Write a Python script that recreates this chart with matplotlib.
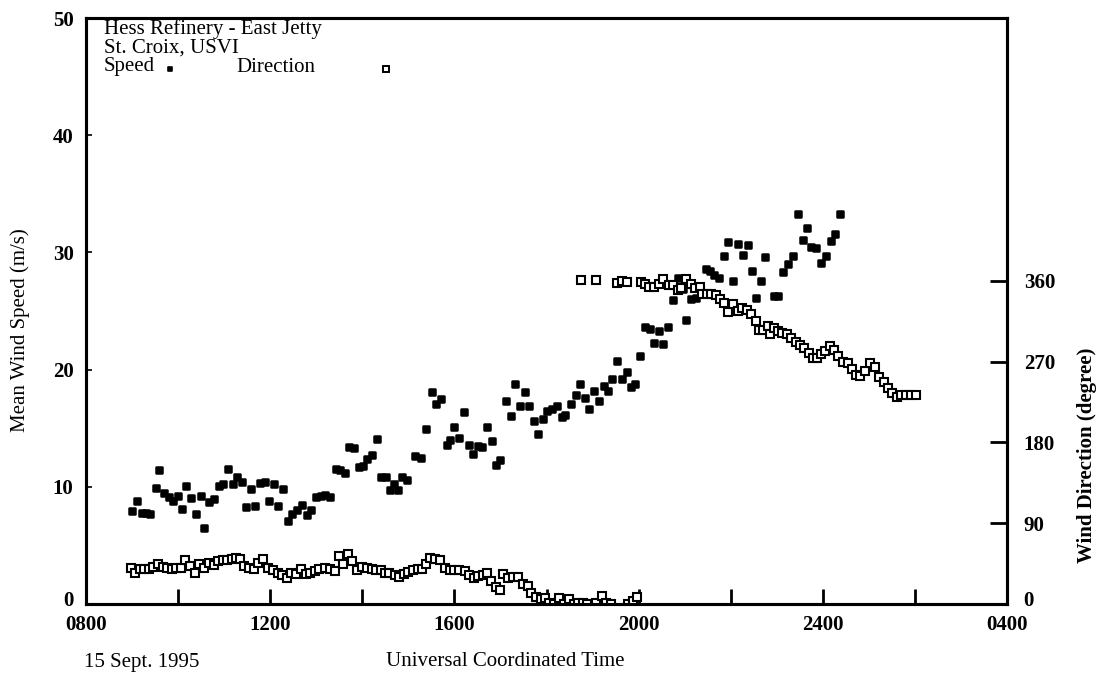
import matplotlib
matplotlib.use("Agg")
import matplotlib.pyplot as plt
from matplotlib.markers import MarkerStyle
from matplotlib.ticker import FixedLocator, MultipleLocator
import matplotlib.transforms as mtransforms

plt.rcParams['font.family'] = ['Liberation Serif', 'DejaVu Serif']

# ---------------- data (hours UTC; values > 24 are the next day) ----------------
speed_time = [9.00, 9.10, 9.22, 9.30, 9.39, 9.51, 9.59, 9.70, 9.80, 9.88, 9.99, 10.09, 10.18, 10.29,
              10.38, 10.49, 10.57, 10.67, 10.77, 10.88, 10.97, 11.09, 11.19, 11.28, 11.38, 11.48,
              11.58, 11.68, 11.78, 11.89, 11.97, 12.08, 12.17, 12.28, 12.38, 12.47, 12.58, 12.69,
              12.79, 12.89, 13.00, 13.10, 13.20, 13.30, 13.43, 13.52, 13.62, 13.72, 13.81, 13.93,
              14.01, 14.10, 14.20, 14.32, 14.41, 14.51, 14.61, 14.68, 14.78, 14.87, 14.97, 15.14,
              15.28, 15.39, 15.51, 15.61, 15.70, 15.83, 15.90, 16.00, 16.11, 16.21, 16.31, 16.41,
              16.51, 16.60, 16.71, 16.82, 16.90, 17.00, 17.12, 17.22, 17.32, 17.42, 17.53, 17.62,
              17.72, 17.82, 17.92, 18.02, 18.12, 18.22, 18.33, 18.41, 18.53, 18.63, 18.73, 18.83,
              18.93, 19.04, 19.14, 19.24, 19.33, 19.43, 19.54, 19.64, 19.74, 19.83, 19.92, 20.04,
              20.14, 20.25, 20.33, 20.45, 20.53, 20.64, 20.75, 20.86, 20.96, 21.04, 21.14, 21.24,
              21.46, 21.55, 21.64, 21.74, 21.86, 21.95, 22.06, 22.16, 22.26, 22.37, 22.46, 22.54,
              22.65, 22.74, 22.93, 23.03, 23.14, 23.25, 23.36, 23.46, 23.56, 23.66, 23.75, 23.85,
              23.96, 24.07, 24.17, 24.27, 24.38]
speed_ms = [7.95, 8.8, 7.8, 7.8, 7.7, 9.9, 11.4, 9.5, 9.15, 8.8, 9.2, 8.1, 10.1, 9.05,
            7.7, 9.2, 6.5, 8.7, 9.0, 10.05, 10.2, 11.5, 10.2, 10.85, 10.4, 8.25,
            9.85, 8.35, 10.35, 10.4, 8.8, 10.2, 8.4, 9.8, 7.1, 7.65, 8.0, 8.45,
            7.6, 8.0, 9.1, 9.2, 9.3, 9.1, 11.5, 11.4, 11.2, 13.4, 13.3, 11.7,
            11.8, 12.4, 12.7, 14.1, 10.8, 10.8, 9.7, 10.2, 9.7, 10.85, 10.6, 12.6,
            12.5, 14.9, 18.1, 17.1, 17.5, 13.6, 14.0, 15.1, 14.2, 16.35, 13.6, 12.8,
            13.5, 13.4, 15.1, 13.9, 11.85, 12.3, 17.35, 16.0, 18.8, 16.9, 18.1, 16.9,
            15.6, 14.5, 15.8, 16.5, 16.6, 16.9, 15.95, 16.1, 17.1, 17.8, 18.8, 17.6,
            16.6, 18.2, 17.3, 18.6, 18.2, 19.2, 20.7, 19.2, 19.8, 18.5, 18.8, 21.2,
            23.6, 23.5, 22.3, 23.3, 22.2, 23.6, 25.9, 27.8, 26.9, 24.2, 26.0, 26.1,
            28.6, 28.4, 28.1, 27.8, 29.7, 30.9, 27.6, 30.7, 29.8, 30.6, 28.4, 26.1,
            27.6, 29.6, 26.3, 26.3, 28.3, 29.0, 29.7, 33.3, 31.1, 32.1, 30.5, 30.4,
            29.1, 29.7, 31.0, 31.6, 33.3]

dir_time = [8.98, 9.07, 9.17, 9.27, 9.36, 9.46, 9.57, 9.67, 9.76, 9.86, 9.96, 10.06, 10.16, 10.26,
            10.36, 10.46, 10.57, 10.67, 10.77, 10.86, 10.97, 11.07, 11.17, 11.26, 11.35, 11.44,
            11.55, 11.64, 11.73, 11.84, 11.95, 12.06, 12.16, 12.26, 12.36, 12.46, 12.57, 12.67,
            12.77, 12.87, 12.97, 13.07, 13.18, 13.29, 13.40, 13.49, 13.59, 13.69, 13.78, 13.88,
            14.00, 14.10, 14.20, 14.30, 14.40, 14.49, 14.59, 14.70, 14.80, 14.90, 15.00, 15.10,
            15.20, 15.30, 15.39, 15.48, 15.58, 15.68, 15.79, 15.90, 16.00, 16.11, 16.22, 16.32,
            16.42, 16.52, 16.62, 16.71, 16.80, 16.90, 16.98, 17.06, 17.17, 17.28, 17.38, 17.49,
            17.59, 17.67, 17.78, 17.88, 17.96, 18.05, 18.17, 18.27, 18.38, 18.48, 18.59, 18.69,
            18.80, 18.89, 19.07, 19.20, 19.30, 19.40, 19.78, 19.88, 19.97,
            18.75, 19.07, 19.54, 19.64, 19.75,
            20.05, 20.14, 20.23, 20.34, 20.44, 20.54, 20.65, 20.75, 20.85, 20.93, 21.04, 21.14,
            21.22, 21.33, 21.37, 21.48, 21.57, 21.67, 21.77, 21.86, 21.95, 22.04, 22.15, 22.25,
            22.35, 22.44, 22.54, 22.62, 22.71, 22.82, 22.85, 22.93, 23.02, 23.11, 23.22, 23.31,
            23.41, 23.51, 23.60, 23.69, 23.78, 23.87, 23.96, 24.05, 24.16, 24.25, 24.34, 24.43,
            24.54, 24.63, 24.72, 24.81, 24.92, 25.03, 25.14, 25.22, 25.32, 25.41, 25.50, 25.61,
            25.70, 25.80, 25.92, 26.02]
dir_deg = [40.5, 34.9, 38.7, 38.7, 38.7, 41.2, 44.2, 41.2, 39.8, 38.7, 39.8, 40.5, 48.7, 42.4,
           34.9, 44.9, 39.8, 46.0, 43.5, 47.9, 48.7, 49.4, 50.2, 51.6, 49.8, 42.4,
           40.5, 38.7, 46.0, 49.8, 39.8, 37.6, 34.9, 32.3, 29.3, 34.9, 33.8, 38.7,
           33.8, 34.9, 36.8, 38.7, 39.8, 38.7, 36.8, 53.5, 44.9, 55.4, 47.9, 37.6,
           41.2, 39.8, 38.7, 38.3, 37.6, 34.2, 34.9, 32.3, 30.1, 33.1, 36.0, 37.6,
           38.7, 38.7, 44.9, 50.9, 49.8, 49.4, 39.8, 37.6, 38.3, 37.6, 36.8, 32.3,
           29.3, 30.9, 32.3, 34.9, 25.6, 19.0, 15.3, 33.8, 28.7, 30.1, 30.1, 22.6,
           20.1, 12.6, 7.8, 5.2, 7.0, 1.4, 0.3, 7.0, 0.3, 5.2, 0.5, 1.4,
           1.4, 0.3, 1.4, 8.9, 1.0, 0.0, 0.5, 3.3, 7.8,
           361.0, 361.0, 358.0, 360.0, 359.0,
           359.3, 357.1, 353.4, 353.4, 356.4, 362.0, 355.6, 355.6, 349.7, 352.6, 362.0, 357.1,
           352.6, 353.4, 345.9, 345.3, 345.3, 344.5, 339.7, 335.9, 325.9, 334.1, 326.6, 330.3,
           327.4, 323.0, 315.5, 305.1, 305.1, 309.9, 301.3, 308.0, 304.3, 302.5, 301.3, 296.9,
           292.4, 288.7, 285.0, 280.2, 274.6, 274.6, 278.4, 282.1, 287.6, 282.8, 276.5, 270.1,
           269.0, 261.6, 255.3, 254.2, 259.8, 269.0, 264.2, 253.1, 247.8, 241.1, 235.5, 230.8,
           233.0, 233.0, 233.0, 233.0]

time_ticks = [8, 12, 16, 20, 24, 28]
time_labels = ['0800', '1200', '1600', '2000', '2400', '0400']
speed_ticks = [0, 10, 20, 30, 40, 50]
dir_ticks = [0, 90, 180, 270, 360]

# ---------------- figure ----------------
W, H = 1104, 674
fig = plt.figure(figsize=(W / 100, H / 100), dpi=100)
L, R, T, B = 86, 1007, 18, 604
ax = fig.add_axes([L / W, 1 - B / H, (R - L) / W, (B - T) / H])
ax2 = ax.twinx()

ax.set_xlim(8, 28)
ax.set_ylim(0, 50)
ax2.set_ylim(0, 653)

fs = 15
ax.xaxis.set_major_locator(FixedLocator(time_ticks))
ax.set_xticklabels(time_labels, fontsize=fs, fontweight='bold')
ax.xaxis.set_minor_locator(MultipleLocator(2))
ax.set_yticks(speed_ticks)
ax.set_yticklabels([str(v) for v in speed_ticks], fontsize=fs, fontweight='bold')
ax2.set_yticks(dir_ticks)
ax2.set_yticklabels([str(v) for v in dir_ticks], fontsize=fs, fontweight='bold')

ax.tick_params(axis='x', which='both', direction='in', length=11, width=2, top=False, pad=8)
ax.tick_params(axis='y', which='both', direction='in', length=4, width=1.2, right=False, pad=9)
ax2.tick_params(axis='y', direction='in', length=12, width=2, pad=12)
ax2.tick_params(axis='x', which='both', bottom=False, top=False)

# lift the bottom "0" labels slightly, as in the reference
lift = mtransforms.ScaledTranslation(0, 4 / 72, fig.dpi_scale_trans)
for lab in (ax.get_yticklabels()[0], ax2.get_yticklabels()[0]):
    lab.set_transform(lab.get_transform() + lift)

for a in (ax, ax2):
    for s in a.spines.values():
        s.set_linewidth(2.2)
        s.set_color('black')

spd_marker = MarkerStyle('s', joinstyle='round')
ax.plot(speed_time, speed_ms, linestyle='none', marker=spd_marker, markersize=5,
        markerfacecolor='black', markeredgecolor='black', markeredgewidth=1.8)
ax2.plot(dir_time, dir_deg, linestyle='none', marker='s', markersize=5.2,
         markerfacecolor='white', markeredgecolor='black', markeredgewidth=1.5)

# ---------------- labels ----------------
fig.text(20 / W, 1 - 330 / H, 'Mean Wind Speed (m/s)', rotation=90, ha='center', va='center',
         fontsize=fs)
fig.text(1087 / W, 1 - 455 / H, 'Wind Direction (degree)', rotation=90, ha='center', va='center',
         fontsize=fs, fontweight='bold')
fig.text(505 / W, 1 - 662 / H, 'Universal Coordinated Time', ha='center', va='center', fontsize=fs)
fig.text(84 / W, 1 - 662 / H, '15 Sept. 1995', ha='left', va='center', fontsize=fs)

# in-plot legend block
fig.text(104 / W, 1 - 29 / H, 'Hess Refinery - East Jetty', ha='left', va='center', fontsize=fs)
fig.text(104 / W, 1 - 48 / H, 'St. Croix, USVI', ha='left', va='center', fontsize=fs)
fig.text(104 / W, 1 - 67 / H, 'Speed', ha='left', va='center', fontsize=fs)
fig.text(236 / W, 1 - 67 / H, 'Direction', ha='left', va='center', fontsize=fs)
ax.plot([(170 - L) / (R - L)], [(B - 69) / (B - T)], transform=ax.transAxes, linestyle='none',
        marker=spd_marker, markersize=3.5, markerfacecolor='black', markeredgecolor='black',
        markeredgewidth=1.2, clip_on=False)
ax.plot([(386 - L) / (R - L)], [(B - 69) / (B - T)], transform=ax.transAxes, linestyle='none',
        marker='s', markersize=4, markerfacecolor='white', markeredgecolor='black',
        markeredgewidth=1.4, clip_on=False)

fig.savefig('out.png', dpi=100)
